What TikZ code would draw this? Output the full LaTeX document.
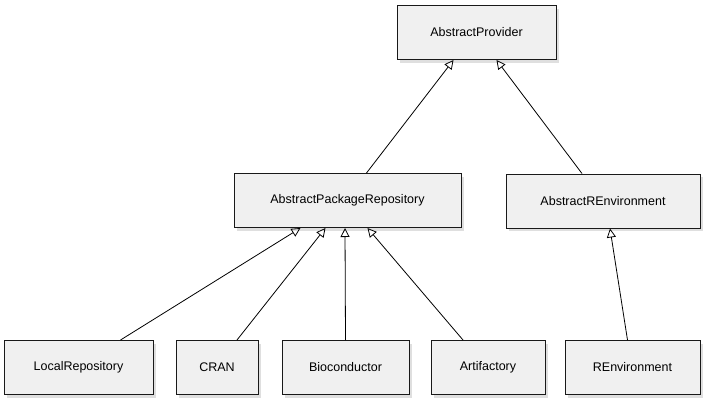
\documentclass[tikz,border=0pt]{standalone}
\usepackage{fontspec}
\setmainfont{Liberation Sans}
\usetikzlibrary{arrows.meta,shadows,calc}
\begin{document}
\begin{tikzpicture}[x=1pt,y=-1pt,
  cls/.style={draw=black!90,line width=1pt,fill=black!6,minimum height=54pt,
    drop shadow={shadow xshift=3pt,shadow yshift=-3pt,opacity=0.25},font=\fontsize{12.5}{14}\selectfont},
  inh/.style={draw=black,line width=0.8pt,-{Triangle[open,length=9pt,width=9pt]}}]
\useasboundingbox (0,0) rectangle (705,400);
\node[cls,minimum width=159pt] (ap) at (476.5,32.5) {AbstractProvider};
\node[cls,minimum width=227pt] (apr) at (347.5,200.5) {AbstractPackageRepository};
\node[cls,minimum width=194pt] (are) at (603,201) {AbstractREnvironment};
\node[cls,minimum width=149pt] (lr) at (78.5,367.5) {LocalRepository};
\node[cls,minimum width=82pt] (cran) at (217,367.5) {CRAN};
\node[cls,minimum width=127pt] (bio) at (345.5,367.5) {Bioconductor};
\node[cls,minimum width=114pt] (art) at (488,367.5) {Artifactory};
\node[cls,minimum width=135pt] (renv) at (632.5,367.5) {REnvironment};
\draw[inh] ($(apr.north)+(19,0)$) -- ($(ap.south)+(-23,0)$);
\draw[inh] ($(are.north)+(-21,0)$) -- ($(ap.south)+(20,0)$);
\draw[inh] ($(lr.north)+(42,0)$) -- ($(apr.south)+(-47,0)$);
\draw[inh] ($(cran.north)+(20,0)$) -- ($(apr.south)+(-22,0)$);
\draw[inh] (bio.north) -- ($(apr.south)+(-2.5,0)$);
\draw[inh] ($(art.north)+(-25,0)$) -- ($(apr.south)+(20,0)$);
\draw[inh] ($(renv.north)+(-5,0)$) -- ($(are.south)+(7,0)$);
\end{tikzpicture}
\end{document}
